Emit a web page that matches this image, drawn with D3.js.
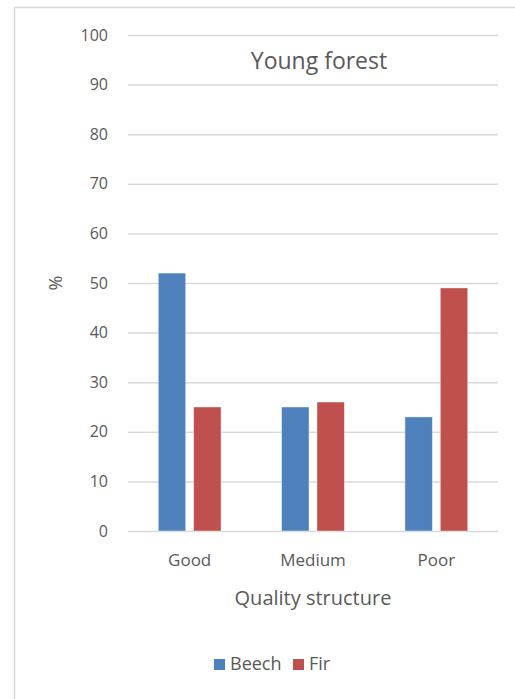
<!DOCTYPE html>
<html>
<head>
<meta charset="utf-8">
<script src="https://cdn.jsdelivr.net/npm/d3@7"></script>
<style>
  html, body { margin: 0; padding: 0; background: #fff; }
  svg { display: block; font-family: "Open Sans", "Noto Sans", sans-serif; }
</style>
</head>
<body>
<svg id="chart" width="515" height="699"></svg>
<script>
// Share of trees by quality structure in young forest (%)
const categories = ["Good", "Medium", "Poor"];
const seriesNames = ["Beech", "Fir"];
const beech = [52, 25, 23];
const fir = [25, 26, 49];
const yTicks = [0, 10, 20, 30, 40, 50, 60, 70, 80, 90, 100];

const colors = { Beech: "#4f81bd", Fir: "#c0504d" };
const textColor = "#595959";
const gridColor = "#d9d9d9";

const svg = d3.select("#chart");

// Chart frame
svg.append("rect")
  .attr("x", 14.5).attr("y", 7.5)
  .attr("width", 520).attr("height", 720)
  .attr("fill", "#fff")
  .attr("stroke", gridColor).attr("stroke-width", 1.5);

const plot = { left: 128, right: 498, top: 35, bottom: 531 };

const x0 = d3.scaleBand()
  .domain(categories)
  .range([plot.left, plot.right]);

const barW = x0.bandwidth() / 4.5;
const gap = barW * 0.29;
const x1 = d3.scaleOrdinal()
  .domain(seriesNames)
  .range([-(gap / 2) - barW, gap / 2]);

const y = d3.scaleLinear()
  .domain([0, 100])
  .range([plot.bottom, plot.top]);

// Horizontal gridlines and y tick labels
const yAxis = d3.axisLeft(y)
  .tickValues(yTicks)
  .tickSize(-(plot.right - plot.left))
  .tickPadding(20)
  .tickFormat(d3.format("d"));

const gy = svg.append("g")
  .attr("transform", `translate(${plot.left},0)`)
  .call(yAxis);
gy.select(".domain").remove();
gy.selectAll(".tick line")
  .attr("stroke", gridColor).attr("stroke-width", 1.5);
gy.selectAll(".tick text")
  .attr("fill", textColor)
  .style("font-size", "16px")
  .style("font-family", "'Open Sans', sans-serif");

// Bars
const rows = categories.map((c, i) => ({ category: c, Beech: beech[i], Fir: fir[i] }));
const groups = svg.append("g").selectAll("g")
  .data(rows)
  .join("g")
  .attr("transform", d => `translate(${x0(d.category) + x0.bandwidth() / 2},0)`);

groups.selectAll("rect")
  .data(d => seriesNames.map(s => ({ series: s, value: d[s] })))
  .join("rect")
  .attr("x", d => x1(d.series))
  .attr("y", d => y(d.value))
  .attr("width", barW)
  .attr("height", d => y(0) - y(d.value))
  .attr("fill", d => colors[d.series])
  .attr("stroke", "#fff").attr("stroke-opacity", 0.5).attr("stroke-width", 0.8);

// Category labels
const xAxis = d3.axisBottom(x0).tickSize(0).tickPadding(23);
const gx = svg.append("g")
  .attr("transform", `translate(0,${plot.bottom})`)
  .call(xAxis);
gx.select(".domain").remove();
gx.selectAll(".tick text")
  .attr("fill", textColor)
  .style("font-size", "17px")
  .style("font-family", "'Open Sans', sans-serif");

// Title
svg.append("text")
  .attr("x", 319).attr("y", 69)
  .attr("text-anchor", "middle")
  .attr("fill", textColor)
  .style("font-size", "23px")
  .text("Young forest");

// Axis titles
svg.append("text")
  .attr("x", (plot.left + plot.right) / 2).attr("y", 605)
  .attr("text-anchor", "middle")
  .attr("fill", textColor)
  .style("font-size", "20px")
  .text("Quality structure");

svg.append("text")
  .attr("transform", "translate(62,283) rotate(-90)")
  .attr("text-anchor", "middle")
  .attr("fill", textColor)
  .style("font-size", "18px")
  .text("%");

// Legend
const legend = svg.append("g");
const legendItems = [
  { name: "Beech", x: 214 },
  { name: "Fir", x: 293 }
];
legendItems.forEach(item => {
  legend.append("rect")
    .attr("x", item.x).attr("y", 659)
    .attr("width", 11).attr("height", 11)
    .attr("fill", colors[item.name]);
  legend.append("text")
    .attr("x", item.x + 16).attr("y", 670)
    .attr("fill", textColor)
    .style("font-size", "18px")
    .text(item.name);
});
</script>
</body>
</html>
